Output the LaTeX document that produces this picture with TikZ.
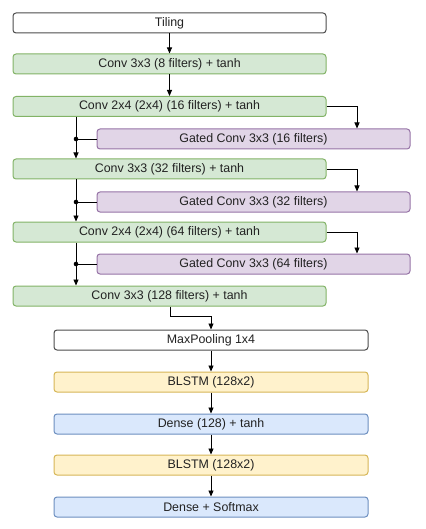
\documentclass[tikz,border=0pt]{standalone}
\usepackage{fontspec}
\setmainfont{Liberation Sans}
\usetikzlibrary{arrows.meta}
\definecolor{gfill}{HTML}{D5E8D4}\definecolor{gdraw}{HTML}{82B366}
\definecolor{pfill}{HTML}{E1D5E7}\definecolor{pdraw}{HTML}{9673A6}
\definecolor{yfill}{HTML}{FFF2CC}\definecolor{ydraw}{HTML}{D6B656}
\definecolor{bfill}{HTML}{DAE8FC}\definecolor{bdraw}{HTML}{6C8EBF}
\definecolor{txt}{HTML}{222222}
\begin{document}
\begin{tikzpicture}[x=1pt,y=-1pt,
  box/.style={rectangle,rounded corners=3pt,line width=1pt,minimum width=313pt,minimum height=20pt,inner sep=0pt,font=\fontsize{12.4}{14}\selectfont,text=txt},
  wbox/.style={box,draw=black!70,fill=white},
  gbox/.style={box,draw=gdraw,fill=gfill},
  pbox/.style={box,draw=pdraw,fill=pfill},
  ybox/.style={box,draw=ydraw,fill=yfill},
  bbox/.style={box,draw=bdraw,fill=bfill},
  arr/.style={-{Triangle[length=6pt,width=5pt]},line width=0.9pt},
  ln/.style={line width=0.9pt}]
\useasboundingbox (0,0) rectangle (425,529);
\node[wbox] (tiling) at (169.5,23) {Tiling};
\node[gbox] (c8) at (169.5,64) {Conv 3x3 (8 filters) + tanh};
\node[gbox] (c16) at (169.5,106.5) {Conv 2x4 (2x4) (16 filters) + tanh};
\node[pbox] (g16) at (253.5,139) {Gated Conv 3x3 (16 filters)};
\node[gbox] (c32) at (169.5,169) {Conv 3x3 (32 filters) + tanh};
\node[pbox] (g32) at (253.5,202) {Gated Conv 3x3 (32 filters)};
\node[gbox] (c64) at (169.5,232) {Conv 2x4 (2x4) (64 filters) + tanh};
\node[pbox] (g64) at (253.5,264) {Gated Conv 3x3 (64 filters)};
\node[gbox] (c128) at (169.5,296) {Conv 3x3 (128 filters) + tanh};
\node[wbox,minimum width=314pt] (mp) at (211,340) {MaxPooling 1x4};
\node[ybox,minimum width=314pt] (bl1) at (211,382) {BLSTM (128x2)};
\node[bbox,minimum width=314pt] (d1) at (211,424) {Dense (128) + tanh};
\node[ybox,minimum width=314pt] (bl2) at (211,465) {BLSTM (128x2)};
\node[bbox,minimum width=314pt] (d2) at (211,507) {Dense + Softmax};
% main column
\draw[arr] (tiling) -- (c8);
\draw[arr] (c8) -- (c16);
% gated branches
\foreach \c/\g/\n in {c16/g16/c32, c32/g32/c64, c64/g64/c128}{
  \draw[arr] (\c.east) -| (\g.north -| 357,0);
  \coordinate (j\g) at (\g.west -| 76,0);
  \draw[arr] (\c.south -| 76,0) -- (\n.north -| 76,0);
  \draw[ln] (\g.west) -- (j\g);
  \fill (j\g) circle (2.3pt);
}
\coordinate (e1) at (170,316);
\coordinate (e2) at (211,316);
\draw[arr] (c128.south -| e1) -- (e1) -- (e2) -- (mp.north);
\draw[arr] (mp) -- (bl1);
\draw[arr] (bl1) -- (d1);
\draw[arr] (d1) -- (bl2);
\draw[arr] (bl2) -- (d2);
\end{tikzpicture}
\end{document}
